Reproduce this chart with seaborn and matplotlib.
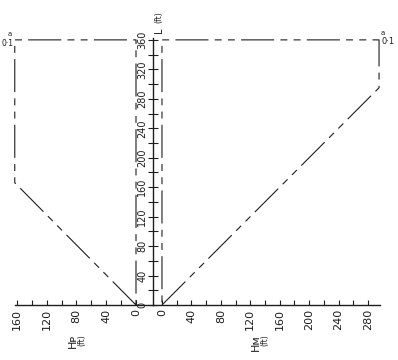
import matplotlib
matplotlib.use("Agg")
import matplotlib.pyplot as plt
import seaborn as sns
from matplotlib.ticker import FixedLocator, NullFormatter

# ---- data -------------------------------------------------------------
hp_profile_h = [0, 163, 163, 0, 0]          # Hp (ft)
hp_profile_l = [0, 166, 360, 360, 0]        # L (ft)
hm_profile_h = [0, 295, 295, 0, 0]          # Hm (ft)
hm_profile_l = [0, 295, 360, 360, 0]        # L (ft)

hp_major = [0, 40, 80, 120, 160]
hp_minor = [20, 60, 100, 140]
hm_major = [0, 40, 80, 120, 160, 200, 240, 280]
hm_minor = [20, 60, 100, 140, 180, 220, 260]
l_major = [0, 40, 80, 120, 160, 200, 240, 280, 320, 360]
l_minor = [20, 60, 100, 140, 180, 220, 260, 300, 340]

hp_label = "Hᴘ"
hm_label = "Hᴍ"
l_label = "L"
unit_label = "(ft)"
corner_text = "0·1"
corner_sup = "a"

# ---- style ------------------------------------------------------------
sns.set_style("white")
plt.rcParams["font.family"] = ["DejaVu Sans"]
plt.rcParams["lines.scale_dashes"] = False

INK = "#1e1e1e"
DASH = (0, (23.8, 4.5, 5, 4.5, 5, 4.5))

W, H = 398, 360
fig = plt.figure(figsize=(W / 100, H / 100), dpi=100)

def fx(px):
    return px / W

def fy(px):
    return 1 - px / H

top_px, bot_px = 20, 310
ylim = (-6.8, 387)

ax_l = fig.add_axes([fx(10), fy(bot_px), fx(153) - fx(10), fy(top_px) - fy(bot_px)])
ax_r = fig.add_axes([fx(153), fy(bot_px), fx(392) - fx(153), fy(top_px) - fy(bot_px)])

for ax in (ax_l, ax_r):
    ax.set_facecolor("none")
    ax.set_ylim(*ylim)
    for s in ax.spines.values():
        s.set_visible(False)

ax_l.set_xlim(169.4, -22.86)
ax_r.set_xlim(-12.2, 312.6)

# profiles
sns.lineplot(x=hp_profile_h, y=hp_profile_l, sort=False, estimator=None,
             ax=ax_l, color=INK, linewidth=0.8)
sns.lineplot(x=hm_profile_h, y=hm_profile_l, sort=False, estimator=None,
             ax=ax_r, color=INK, linewidth=0.8)
for ax in (ax_l, ax_r):
    for ln in ax.lines:
        ln.set_linestyle(DASH)
        ln.set_clip_on(False)
    ax.set_xlabel("")
    ax.set_ylabel("")

# bottom (horizontal) axes
ax_l.spines["bottom"].set_visible(True)
ax_l.spines["bottom"].set_position(("data", 0))
ax_l.spines["bottom"].set_bounds(163, -22.86)
ax_r.spines["bottom"].set_visible(True)
ax_r.spines["bottom"].set_position(("data", 0))
ax_r.spines["bottom"].set_bounds(-12.2, 296)

# vertical L axis
ax_r.spines["left"].set_visible(True)
ax_r.spines["left"].set_bounds(0, 363)

for ax in (ax_l, ax_r):
    for s in ("bottom", "left"):
        ax.spines[s].set_color(INK)
        ax.spines[s].set_linewidth(1.0)

ax_l.xaxis.set_major_locator(FixedLocator(hp_major))
ax_l.xaxis.set_minor_locator(FixedLocator(hp_minor))
ax_l.set_xticklabels([str(v) for v in hp_major])
ax_r.xaxis.set_major_locator(FixedLocator(hm_major))
ax_r.xaxis.set_minor_locator(FixedLocator(hm_minor))
ax_r.set_xticklabels([str(v) for v in hm_major])

for ax in (ax_l, ax_r):
    ax.xaxis.set_ticks_position("bottom")
    ax.tick_params(axis="x", which="both", direction="in", length=3.6,
                   width=0.8, color=INK, pad=3, labelsize=8,
                   labelcolor=INK, labelrotation=90, bottom=True)

ax_l.yaxis.set_visible(False)
ax_r.yaxis.set_major_locator(FixedLocator(l_major))
ax_r.yaxis.set_minor_locator(FixedLocator(l_minor))
ax_r.yaxis.set_minor_formatter(NullFormatter())
ax_r.set_yticklabels([str(v) for v in l_major])
ax_r.yaxis.set_ticks_position("left")
ax_r.tick_params(axis="y", which="both", direction="inout", length=7.2,
                 width=0.8, color=INK, pad=0.5, labelsize=7,
                 labelcolor=INK, left=True)
for t in ax_r.get_yticklabels():
    t.set_rotation(90)
    t.set_va("center")

# axis titles
fig.text(fx(73), fy(334), hp_label, rotation=90, ha="center", va="top",
         fontsize=8, color=INK)
fig.text(fx(82), fy(334), unit_label, rotation=90, ha="center", va="top",
         fontsize=5.5, color=INK)
fig.text(fx(256), fy(334), hm_label, rotation=90, ha="center", va="top",
         fontsize=8, color=INK)
fig.text(fx(265), fy(334), unit_label, rotation=90, ha="center", va="top",
         fontsize=5.5, color=INK)
fig.text(fx(159), fy(33), l_label, rotation=90, ha="center", va="bottom",
         fontsize=7, color=INK)
fig.text(fx(159), fy(23), unit_label, rotation=90, ha="center", va="bottom",
         fontsize=5.5, color=INK)

# corner annotations
fig.text(fx(1), fy(44), corner_text, ha="left", va="center",
         fontsize=5.5, color=INK)
fig.text(fx(10), fy(34), corner_sup, ha="center", va="center",
         fontsize=5, color=INK)
fig.text(fx(382), fy(42), corner_text, ha="left", va="center",
         fontsize=6, color=INK)
fig.text(fx(383), fy(33), corner_sup, ha="center", va="center",
         fontsize=5, color=INK)

fig.savefig("out.png", dpi=100)
